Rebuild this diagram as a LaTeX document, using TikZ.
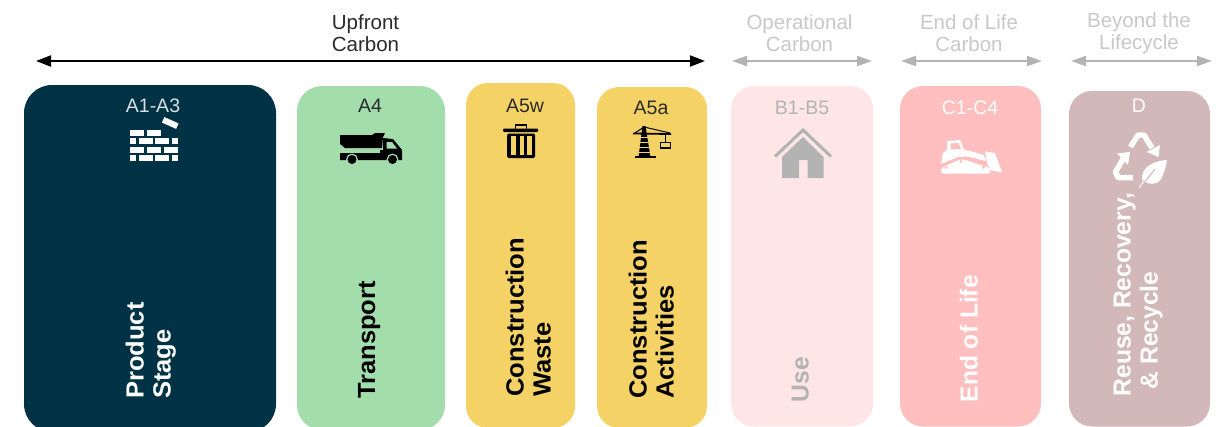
\documentclass[tikz,border=0pt]{standalone}
\usepackage{fontspec}
\setmainfont{Liberation Sans}
\newfontface\wideb[FakeStretch=1.03]{Liberation Sans Bold}
\usetikzlibrary{arrows.meta}
\definecolor{navy}{HTML}{003246}
\definecolor{green1}{HTML}{A2DDAB}
\definecolor{yel}{HTML}{F4D266}
\definecolor{pink1}{HTML}{FFE6E6}
\definecolor{pink2}{HTML}{FFBFBF}
\definecolor{mauve}{HTML}{D2B8B8}
\definecolor{gr}{HTML}{B3B3B3}
\definecolor{grt}{HTML}{C8C8C8}
\definecolor{ink}{HTML}{2A2A2A}
\tikzset{
 x=1pt,y=-1pt,
 code/.style={font=\fontsize{19.5}{19.5}\selectfont,anchor=center,inner sep=0pt},
 head/.style={font=\fontsize{20.5}{22}\selectfont,align=center,anchor=center,inner sep=0pt},
 vlab/.style={font=\wideb\fontsize{24.8}{27}\selectfont,rotate=90,align=left,anchor=south west,inner sep=0pt},
 vlabb/.style={font=\bfseries\fontsize{24.6}{27}\selectfont,rotate=90,align=left,anchor=south west,inner sep=0pt},
 span/.style={line width=2pt,{Triangle[length=15pt,width=11pt]}-{Triangle[length=15pt,width=11pt]}},
 spang/.style={line width=2pt,gr,{Triangle[length=15pt,width=10pt]}-{Triangle[length=15pt,width=10pt]}},
}
\begin{document}
\begin{tikzpicture}
\useasboundingbox (0,0) rectangle (1230,426);
\begin{scope}
\clip (0,0) rectangle (1230,426);
\fill[navy,rounded corners=28pt] (24,85) rectangle (276,432);
\fill[green1,rounded corners=25pt] (297,86) rectangle (445,430);
\fill[yel,rounded corners=22pt] (466,83) rectangle (575,428);
\fill[yel,rounded corners=22pt] (597,87) rectangle (707,428);
\fill[pink1,rounded corners=23pt] (731,86) rectangle (873,426.5);
\fill[pink2,rounded corners=23pt] (900,86) rectangle (1041,426.5);
\fill[mauve,rounded corners=23pt] (1069,91) rectangle (1210,426.5);
\end{scope}
% headers
\node[head,text=ink] (h1) at (365.5,33) {Upfront\\Carbon};
\node[head,text=grt] (h2) at (799.5,33.5) {Operational\\Carbon};
\node[head,text=grt] (h3) at (969,33) {End of Life\\Carbon};
\node[head,text=grt] (h4) at (1139,33) {Beyond the\\Lifecycle};
\coordinate (a1) at (36,61); \coordinate (a2) at (705,61);
\coordinate (b1) at (732,61); \coordinate (b2) at (872,61);
\coordinate (c1) at (901,61); \coordinate (c2) at (1042,61);
\coordinate (d1) at (1071,61); \coordinate (d2) at (1212,61);
\draw[span] (a1) -- (a2);
\draw[spang] (b1) -- (b2);
\draw[spang] (c1) -- (c2);
\draw[spang] (d1) -- (d2);
% codes
\node[code,text=white!85!navy] (n1) at (153,106) {A1-A3};
\node[code,text=ink] (n2) at (370,106) {A4};
\node[code,text=ink] (n3) at (525,106) {A5w};
\node[code,text=ink] (n4) at (651,108) {A5a};
\node[code,text=gr] (n5) at (802,108) {B1-B5};
\node[code,text=white] (n6) at (970,108) {C1-C4};
\node[code,text=white] (n7) at (1139,106) {D};
% vertical labels
\node[vlab,text=white] (l1) at (176,399) {Product\\Stage};
\node[vlab,text=black] (l2) at (380.5,399) {Transport};
\node[vlab,text=black] (l3) at (551,397) {Construction\\Waste};
\node[vlab,text=black] (l4) at (674,399) {Construction\\Activities};
\node[vlabb,text=gr] (l5) at (809,402.5) {Use};
\node[vlabb,text=white] (l6) at (978,402.5) {End of Life};
\node[vlabb,text=white] (l7) at (1163,396.5) {Reuse, Recovery,\\\hspace*{7pt}\& Recycle};
% bricks
\begin{scope}[white]
\fill[rotate around={-24:(170.3,123)}] (162.5,120) rectangle (178,126);
\foreach \y in {130,147}{
 \fill (130,\y) rectangle ++(14,6);
 \fill (147.3,\y) rectangle ++(14,6);}
\fill (164,147) rectangle (178,153);
\foreach \y in {138.3,155}{
  \fill (130,\y) rectangle ++(5.7,6);
  \fill (139,\y) rectangle ++(14,6);
  \fill (155,\y) rectangle ++(14,6);
  \fill (172,\y) rectangle ++(6,6);}
\end{scope}
% truck
\fill[black] (340,135) -- (372,135) -- (375,133) -- (385,133) -- (383,137) -- (382,148) -- (345,148) -- (340,144) -- cycle;
\fill[black] (340,153) -- (380,153) -- (380,150) -- (383,150) -- (383,138) -- (393,139) -- (402,150) -- (402,160) -- (340,160) -- cycle;
\fill[green1] (386.5,142) -- (392,142) -- (397,148.5) -- (386.5,148.5) -- cycle;
\draw[green1,line width=1.2pt,fill=black] (352,159.5) circle (5.3);
\draw[green1,line width=1.2pt,fill=black] (392.5,159.5) circle (5.3);
% bin
\fill[black,rounded corners=1pt] (503,128.5) rectangle (538,132);
\draw[black,line width=1.5pt] (515.5,129) -- (515.5,125) -- (526.5,125) -- (526.5,129);
\fill[black,rounded corners=1.5pt] (507,133.5) rectangle (535,158);
\fill[yel] (511,136) rectangle (516,154.5);
\fill[yel] (519.5,136) rectangle (523.5,154.5);
\fill[yel] (527,136) rectangle (531.5,154.5);
% crane
\draw[black,line width=1.8pt] (633,133.5) -- (671,134);
\draw[black,line width=1pt] (635,133) -- (644,127) -- (670,133);
\fill[black] (642.5,126) -- (645.5,126) -- (650.5,157) -- (638.5,157) -- cycle;
\foreach \y in {137,142,147,152}{\draw[yel,line width=.9pt] (638,\y) -- (651,\y);}
\fill[black] (635,155.5) rectangle (656,158);
\draw[black,line width=1pt] (665,134) -- (665,142.5);
\draw[black,line width=1.3pt] (660.5,142.5) rectangle (670.5,148);
% house
\draw[gr,line width=3pt] (775,156.5) -- (803,130) -- (831,156.5);
\fill[gr] (782,157) -- (803,137) -- (823.5,157) -- (823.5,178) -- (807.5,178) -- (807.5,160) -- (799,160) -- (799,178) -- (782,178) -- cycle;
% bulldozer
\fill[white,rounded corners=.8pt] (947,141) -- (960,140) -- (964,150) -- (970,151) -- (984,155) -- (986,161) -- (968,156.5) -- (958,157) -- (941,164) -- (943,153) -- (947,150) -- cycle;
\fill[pink2] (950.5,143.5) -- (958.5,143) -- (961,149) -- (950.5,149.5) -- cycle;
\fill[white,rounded corners=3pt] (940.5,173.5) -- (941,168) -- (960,159.5) -- (964,159.5) -- (990,168) -- (991,173.5) -- cycle;
\fill[white] (985,151.5) -- (995,153) -- (1002,172.5) -- (990,170) -- (987,163) -- cycle;
\fill[pink2] (946,167.5) circle (1.6) (961,161.5) circle (1.6) (983.5,167.5) circle (1.6);
% recycle
\begin{scope}[white,line width=5.5pt,line join=round]
\draw (1130.5,147) -- (1138,135) -- (1144,135) -- (1152,148);
\fill (1146.5,152) -- (1160,145) -- (1158.5,157) -- cycle;
\draw (1133,177.5) -- (1118,177.5) -- (1115.5,172) -- (1123,159);
\fill (1117,153.5) -- (1130,152) -- (1128,165) -- cycle;
\end{scope}
\fill[white] (1167,160) .. controls (1153,161) and (1141,167) .. (1142,180) .. controls (1146,184) and (1158,187) .. (1162,177) .. controls (1164,172) and (1166,167) .. (1167,160) -- cycle;
\draw[mauve,line width=1pt] (1143,184) -- (1155,169);
\draw[white,line width=1pt] (1139,187.5) -- (1143.5,182);
\end{tikzpicture}
\end{document}
